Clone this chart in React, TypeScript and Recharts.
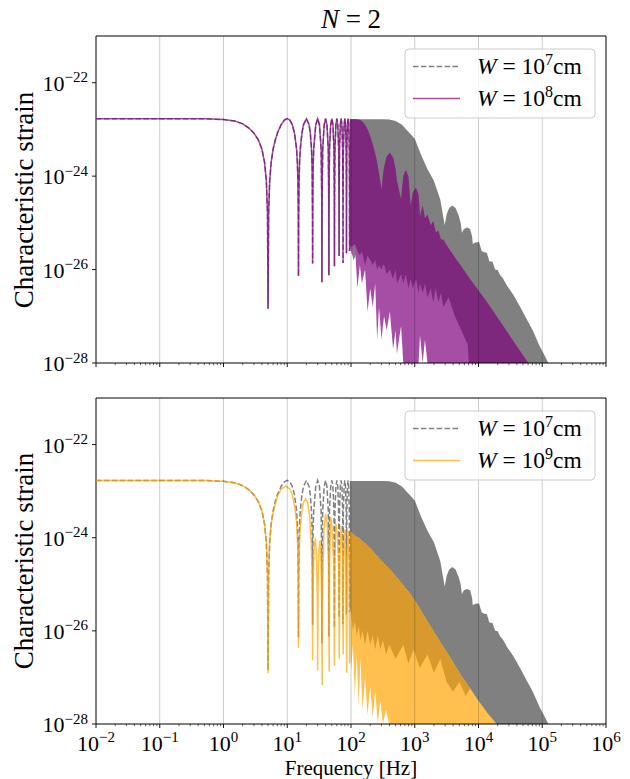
import React from "react";
import {
  Area,
  ComposedChart,
  Line,
  ReferenceArea,
  ReferenceLine,
  XAxis,
  YAxis,
} from "recharts";

const FONT = "'Liberation Serif', 'DejaVu Serif', 'Times New Roman', Times, serif";

// Resolved low-frequency part, frequency in Hz.
const lowFreq = [
  0.01, 0.1, 0.5, 1, 1.5, 2, 2.5, 3, 3.5, 4, 4.4, 4.7, 4.9, 5,
  5.1, 5.3, 5.6, 6, 6.5, 7, 8, 9, 10,
  11, 12, 13, 14, 14.4, 14.7, 14.9, 15,
  15.1, 15.3, 15.6, 16, 17, 18, 20, 22, 23, 24, 24.6, 24.9, 25,
  25.1, 25.4, 26, 28, 30, 32, 34, 34.8, 35,
  35.2, 36, 38, 40, 42, 44, 44.8, 45,
  45.2, 46, 48, 50, 52, 54, 54.8, 55,
  55.2, 56, 58, 60, 62, 64, 64.8, 65,
  65.2, 66, 68, 70, 72, 74, 74.8, 75,
  75.2, 76, 78, 80, 82, 84, 84.8, 85,
  85.2, 86, 88, 90, 92, 94, 94.8, 95,
];
// log10 strain, W = 1e7 cm (W = 1e8 cm lies on top of it below ~100 Hz)
const w7Low = [
  -22.77, -22.77, -22.77, -22.79, -22.82, -22.88, -22.97, -23.08, -23.22, -23.42, -23.7, -24.1, -24.8, -26.84,
  -24.8, -24.1, -23.7, -23.42, -23.22, -23.08, -22.9, -22.8, -22.77,
  -22.8, -22.9, -23.08, -23.42, -23.7, -24.1, -24.8, -26.14,
  -24.8, -24.1, -23.7, -23.42, -23.08, -22.9, -22.77, -22.9, -23.08, -23.42, -23.85, -24.8, -25.87,
  -24.8, -23.85, -23.42, -22.9, -22.77, -22.9, -23.42, -24.5, -26.27,
  -24.5, -23.42, -22.9, -22.77, -22.9, -23.42, -24.5, -26.12,
  -24.5, -23.42, -22.9, -22.77, -22.9, -23.42, -24.5, -25.93,
  -24.5, -23.42, -22.9, -22.77, -22.9, -23.42, -24.5, -25.71,
  -24.5, -23.42, -22.9, -22.77, -22.9, -23.42, -24.5, -25.86,
  -24.5, -23.42, -22.9, -22.77, -22.9, -23.42, -24.5, -25.65,
  -24.5, -23.42, -22.9, -22.77, -22.9, -23.42, -24.5, -25.6,
];

// Dense (unresolved) part, W = 1e7 cm: upper and lower envelope
const w7DenseFreq = [
  96, 110, 126, 150, 200, 260, 330, 398, 501, 631, 794, 1000, 1259, 1585, 1995, 2512,
  2951, 3162, 3467, 3890, 4365, 4898, 5248, 5495, 5900, 6600, 7400, 7950, 8128, 8900,
  10200, 11200, 12300, 13500, 14800, 16600, 18200, 20000, 21900, 24000, 28200, 35500,
  44700, 56200, 70800, 91200, 110000, 124500,
];
const w7DenseHi = [
  -22.78, -22.78, -22.78, -22.78, -22.78, -22.78, -22.78, -22.79, -22.82, -22.9, -23.05, -23.2, -23.55, -23.85, -24.1, -24.5,
  -25.05, -24.82, -24.68, -24.63, -24.68, -24.85, -25.0, -25.21, -25.13, -25.1, -25.13, -25.3, -25.45, -25.42,
  -25.41, -25.6, -25.63, -25.64, -25.82, -25.83, -26.0, -26.01, -26.12, -26.18, -26.35, -26.55,
  -26.79, -27.05, -27.3, -27.64, -27.85, -28,
];
const w7DenseLo = [
  -25.5, -25.8, -25.6, -25.9, -25.7, -26.0, -25.8, -26.0, -25.9, -26.1, -26.0, -26.2, -26.1, -26.3, -26.2, -26.4,
  -26.5, -26.7, -26.9, -27.1, -27.3, -27.5, -27.7, -28, -28, -28, -28, -28, -28, -28,
  -28, -28, -28, -28, -28, -28, -28, -28, -28, -28, -28, -28,
  -28, -28, -28, -28, -28, -28,
];

// Dense part, W = 1e8 cm: upper envelope, lowest spikes, edge of the overlapped core
const w8DenseFreq = [
  96, 105, 115, 126, 138, 148, 166, 182, 200, 219, 240, 257, 275, 302, 316, 331, 363, 407,
  457, 501, 525, 610, 661, 724, 794, 863, 933, 1047, 1148, 1208, 1330, 1445, 1585, 1778,
  1950, 2138, 2344, 2570, 2818, 3388, 4266, 5370, 6761, 7079, 13490, 60256,
];
const w8DenseHi = [
  -22.78, -22.78, -22.78, -22.79, -22.8, -22.82, -22.9, -23.0, -23.14, -23.32, -23.52, -23.7, -23.95, -24.29, -24.0, -23.8, -23.58, -23.5,
  -23.6, -23.85, -24.1, -24.5, -24.0, -23.87, -24.0, -24.64, -24.35, -24.25, -24.4, -24.86, -24.63, -24.9, -24.82, -25.05,
  -24.96, -25.2, -25.17, -25.35, -25.36, -25.54, -25.74, -25.93, -26.13, -26.17, -26.69, -28,
];
const w8DenseLo = [
  -25.5, -25.7, -25.45, -26.4, -25.9, -26.3, -26.0, -26.9, -26.4, -26.8, -26.3, -27.5, -26.8, -27.5, -27.2, -27.0, -27.3, -26.9,
  -27.7, -27.3, -27.8, -27.2, -28, -28, -28, -28, -28, -28, -28, -27.4, -28, -27.5, -28, -28,
  -28, -28, -28, -28, -28, -28, -28, -28, -28, -28, -28, -28,
];
const w8DenseCore = [
  -25.5, -25.5, -25.45, -25.6, -25.7, -25.6, -25.9, -25.7, -25.8, -25.9, -25.8, -26.0, -25.9, -26.0, -25.9, -25.9, -26.1, -26.0,
  -26.2, -26.0, -26.3, -26.1, -26.3, -26.1, -26.4, -26.2, -26.4, -26.2, -26.5, -26.3, -26.5, -26.3, -26.6, -26.4,
  -26.7, -26.4, -26.7, -26.5, -26.8, -26.6, -27.0, -27.3, -27.6, -28, -28, -28,
];

// W = 1e9 cm, resolved part
const w9LowFreq = [
  0.01, 0.1, 0.5, 1, 1.5, 2, 2.5, 3, 3.5, 4, 4.4, 4.7, 4.9, 5,
  5.1, 5.3, 5.6, 6, 7, 8, 9.5, 11, 12, 13, 14, 14.6, 14.9, 15,
  15.1, 15.4, 16, 17, 18, 19.5, 21, 22.5, 23.8, 24.6, 25,
  25.4, 26.5, 27.7, 28.8, 29.6, 30, 30.5, 31.5, 32.5, 33.6, 34.6, 35.3,
  36, 37.5, 40, 42.5, 44.3, 45.5, 46.3, 48, 50.5, 53.5, 55,
  56, 58, 61, 64, 65.5, 67, 70, 73, 75.5, 77, 80, 83, 85.5, 87, 90, 93, 95.5, 97, 100,
];
const w9Low = [
  -22.77, -22.77, -22.77, -22.79, -22.82, -22.88, -22.97, -23.08, -23.22, -23.42, -23.7, -24.1, -24.8, -26.91,
  -24.8, -24.1, -23.72, -23.45, -23.12, -22.96, -22.89, -22.96, -23.08, -23.3, -23.65, -24.2, -24.9, -26.37,
  -24.9, -24.3, -23.8, -23.42, -23.24, -23.16, -23.26, -23.55, -24.1, -24.8, -26.63,
  -25.0, -24.2, -24.01, -24.4, -25.3, -26.85, -25.0, -24.25, -24.06, -24.4, -25.3, -27.16,
  -25.0, -23.85, -23.49, -23.75, -24.6, -26.88, -24.4, -23.56, -23.8, -24.6, -26.75,
  -24.5, -23.7, -23.9, -24.6, -26.6, -24.5, -23.75, -24.3, -26.5, -24.6, -23.82, -24.4, -26.9, -24.6, -23.85, -24.4, -26.7, -24.6, -23.88,
];

// W = 1e9 cm, dense part
const w9DenseFreq = [
  100, 107, 115, 123, 132, 141, 151, 166, 182, 200, 219, 240, 263, 288, 316, 355, 398,
  501, 661, 794, 955, 1202, 1585, 1995, 2512, 3162, 3981, 5012, 6310, 7413, 10000, 14125, 19275,
];
const w9DenseHi = [
  -23.88, -23.92, -23.95, -23.98, -24.0, -24.04, -24.08, -24.12, -24.17, -24.22, -24.28, -24.35, -24.41, -24.47, -24.52, -24.6, -24.66,
  -24.82, -25.02, -25.15, -25.31, -25.52, -25.8, -26.02, -26.24, -26.45, -26.67, -26.9, -27.1, -27.24, -27.5, -27.78, -28,
];
const w9DenseLo = [
  -26.9, -26.3, -27.4, -26.5, -27.6, -26.6, -27.7, -27.0, -27.8, -27.2, -27.85, -27.3, -28, -27.5, -28, -27.7, -28,
  -28, -28, -28, -28, -28, -28, -28, -28, -28, -28, -28, -28, -28, -28, -28, -28,
];
const w9DenseCore = [
  -25.6, -26.0, -25.8, -26.1, -25.9, -26.2, -26.0, -26.3, -26.0, -26.3, -26.1, -26.4, -26.1, -26.4, -26.2, -26.5, -26.3,
  -26.6, -26.3, -26.7, -26.4, -26.8, -26.5, -26.9, -26.6, -27.1, -27.3, -27.1, -27.4, -27.24, -27.5, -27.78, -28,
];

const yTicks = [-28, -26, -24, -22];
const gridDecades = [0.1, 1, 10, 100, 1000, 10000, 100000];
const xTicks: number[] = [];
for (let n = -2; n < 6; n++) {
  for (let k = 1; k < 10; k++) xTicks.push(k * 10 ** n);
}
xTicks.push(1e6);

const lineRows = (fs: number[], vs: number[]) => fs.map((f, i) => ({ f, v: vs[i] }));
const bandRows = (fs: number[], hi: number[], lo: number[], core?: number[]) =>
  fs.map((f, i) => ({
    f,
    band: [lo[i], hi[i]],
    core: core ? [core[i], hi[i]] : undefined,
  }));

const w7LowRows = lineRows(lowFreq, w7Low);
const w7Dense = bandRows(w7DenseFreq, w7DenseHi, w7DenseLo);
const w9LowRows = lineRows(w9LowFreq, w9Low);

const SERIES = {
  w8: {
    low: w7LowRows,
    dense: bandRows(w8DenseFreq, w8DenseHi, w8DenseLo, w8DenseCore),
    stroke: "#800080",
    light: "#a64da6",
    dark: "#7d287d",
  },
  w9: {
    low: w9LowRows,
    dense: bandRows(w9DenseFreq, w9DenseHi, w9DenseLo, w9DenseCore),
    stroke: "#ffa500",
    light: "#ffc04d",
    dark: "#d89a2c",
  },
};

const fmtExp = (n: number) => (n < 0 ? "\u2212" + Math.abs(n) : String(n));

function XTick(props: any) {
  const { x, y, payload, showLabel } = props;
  const lg = Math.log10(payload.value);
  const major = Math.abs(lg - Math.round(lg)) < 1e-6;
  return (
    <g>
      <line
        x1={x}
        x2={x}
        y1={y}
        y2={y + (major ? 4 : 2.2)}
        stroke="#000"
        strokeWidth={major ? 0.9 : 0.6}
      />
      {showLabel && major && (
        <text x={x} y={y + 27} textAnchor="middle" style={{ fontFamily: FONT }} fontSize={22} fill="#000">
          10
          <tspan dy={-9} fontSize={15}>
            {fmtExp(Math.round(lg))}
          </tspan>
        </text>
      )}
    </g>
  );
}

function YTick(props: any) {
  const { x, y, payload } = props;
  return (
    <g>
      <line x1={x - 4} x2={x} y1={y} y2={y} stroke="#000" strokeWidth={0.9} />
      <text x={x - 8} y={y + 8} textAnchor="end" style={{ fontFamily: FONT }} fontSize={22} fill="#000">
        10
        <tspan dy={-8.5} fontSize={15}>
          {fmtExp(payload.value)}
        </tspan>
      </text>
    </g>
  );
}

function Panel({
  top,
  height,
  marginTop,
  axisHeight,
  showXLabels,
  series,
}: {
  top: number;
  height: number;
  marginTop: number;
  axisHeight: number;
  showXLabels: boolean;
  series: typeof SERIES.w8;
}) {
  return (
    <div style={{ position: "absolute", left: 0, top }}>
      <ComposedChart
        width={630}
        height={height}
        margin={{ top: marginTop, right: 24, bottom: 0, left: 0 }}
      >
        <XAxis
          type="number"
          dataKey="f"
          scale="log"
          domain={[0.01, 1e6]}
          allowDataOverflow
          ticks={xTicks}
          interval={0}
          tick={(p: any) => <XTick {...p} showLabel={showXLabels} />}
          tickLine={false}
          axisLine={false}
          tickSize={0}
          tickMargin={0}
          height={axisHeight}
        />
        <YAxis
          type="number"
          domain={[-28, -21]}
          allowDataOverflow
          ticks={yTicks}
          interval={0}
          tick={(p: any) => <YTick {...p} />}
          tickLine={false}
          axisLine={false}
          tickSize={0}
          tickMargin={0}
          width={96}
        />
        <Area
          data={w7Dense}
          dataKey="band"
          type="linear"
          stroke="none"
          fill="#808080"
          fillOpacity={1}
          isAnimationActive={false}
        />
        <Line
          data={w7LowRows}
          dataKey="v"
          type="linear"
          stroke="#808080"
          strokeWidth={1.5}
          strokeDasharray="5.5 2.4"
          dot={false}
          isAnimationActive={false}
        />
        <Area
          data={series.dense}
          dataKey="band"
          type="linear"
          stroke="none"
          fill={series.light}
          fillOpacity={1}
          isAnimationActive={false}
        />
        <Area
          data={series.dense}
          dataKey="core"
          type="linear"
          stroke="none"
          fill={series.dark}
          fillOpacity={1}
          isAnimationActive={false}
        />
        <Line
          data={series.low}
          dataKey="v"
          type="linear"
          stroke={series.stroke}
          strokeOpacity={0.7}
          strokeWidth={1.5}
          dot={false}
          isAnimationActive={false}
        />
        {gridDecades.map((d) => (
          <ReferenceLine key={d} x={d} stroke="#000" strokeOpacity={0.2} strokeWidth={1} />
        ))}
        <ReferenceArea
          x1={0.01}
          x2={1e6}
          y1={-28}
          y2={-21}
          fill="none"
          stroke="#000"
          strokeWidth={1}
        />
      </ComposedChart>
    </div>
  );
}

function LegendBox({ y, color, exp }: { y: number; color: string; exp: string }) {
  const rows = [
    { label: "7", dashed: true, stroke: "#808080", cy: y + 17.5 },
    { label: exp, dashed: false, stroke: color, cy: y + 49.5 },
  ];
  return (
    <g>
      <rect x={405} y={y} width={190} height={69} rx={4} fill="#fff" fillOpacity={0.8} stroke="#cccccc" />
      {rows.map((r) => (
        <g key={r.label}>
          <line
            x1={413}
            x2={460}
            y1={r.cy}
            y2={r.cy}
            stroke={r.stroke}
            strokeOpacity={r.dashed ? 1 : 0.7}
            strokeWidth={1.5}
            strokeDasharray={r.dashed ? "5.5 2.4" : undefined}
          />
          <text x={477} y={r.cy + 7.5} style={{ fontFamily: FONT }} fontSize={23.5} fill="#000">
            <tspan fontStyle="italic">W</tspan> = 10
            <tspan dy={-9} fontSize={16}>
              {r.label}
            </tspan>
            <tspan dy={9}>cm</tspan>
          </text>
        </g>
      ))}
    </g>
  );
}

export default function App() {
  return (
    <div style={{ position: "absolute", left: 0, top: 0, width: 630, height: 779, background: "#fff" }}>
      <Panel top={0} height={380} marginTop={36} axisHeight={17} showXLabels={false} series={SERIES.w8} />
      <Panel top={381} height={398} marginTop={17} axisHeight={55} showXLabels series={SERIES.w9} />
      <svg
        width={630}
        height={779}
        style={{ position: "absolute", left: 0, top: 0, pointerEvents: "none", fontFamily: FONT }}
      >
        <text x={351} y={28} textAnchor="middle" fontSize={27} fill="#000">
          <tspan fontStyle="italic">N</tspan> = 2
        </text>
        {[200, 561].map((cy) => (
          <text
            key={cy}
            transform={`translate(33,${cy}) rotate(-90)`}
            textAnchor="middle"
            fontSize={27}
            fill="#000"
          >
            Characteristic strain
          </text>
        ))}
        <text x={351} y={775} textAnchor="middle" fontSize={21} fill="#000">
          Frequency [Hz]
        </text>
        <LegendBox y={49} color="#800080" exp="8" />
        <LegendBox y={411} color="#ffa500" exp="9" />
      </svg>
    </div>
  );
}
